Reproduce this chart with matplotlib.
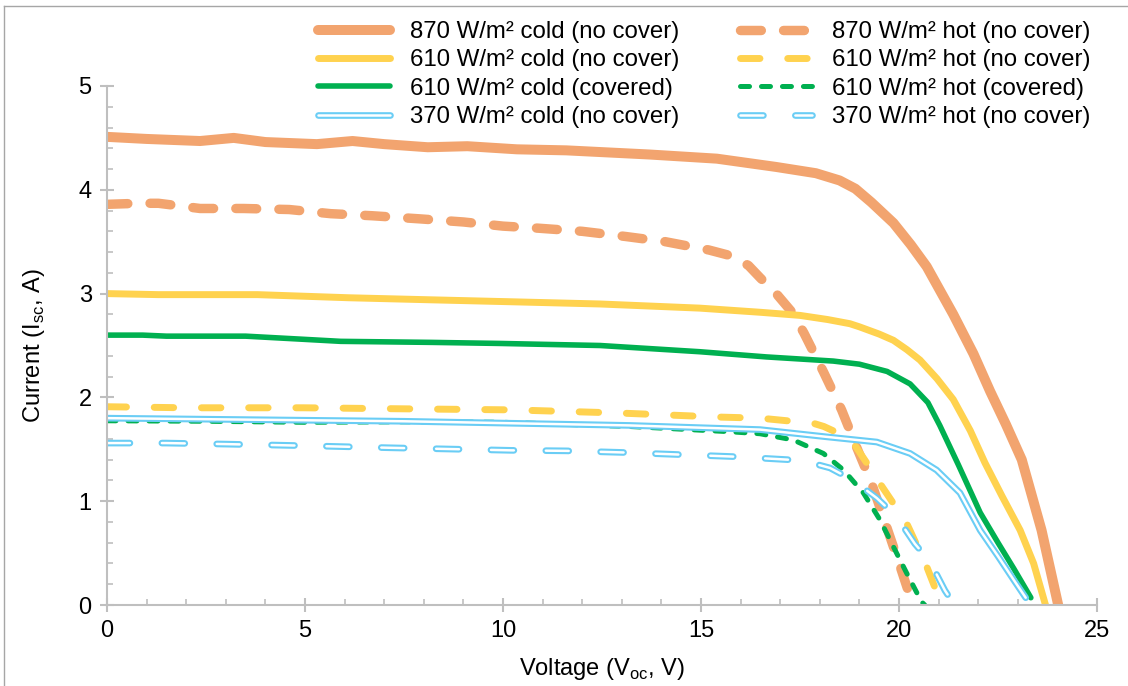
import matplotlib
matplotlib.use('Agg')
import matplotlib.pyplot as plt
from matplotlib.lines import Line2D
from matplotlib.ticker import MultipleLocator

plt.rcParams['font.family'] = ['Liberation Sans', 'DejaVu Sans']
plt.rcParams['font.size'] = 17
plt.rcParams['lines.scale_dashes'] = False

# I-V curves (voltage V, current A)
v_870_cold = [0, 1.0, 2.35, 3.2, 4.0, 5.3, 6.2, 7.0, 8.1, 9.1, 10.35, 11.6, 13.7, 15.4, 16.9, 17.9,
              18.5, 18.9, 19.3, 19.86, 20.3, 20.7, 21.37, 21.88, 22.3, 22.7, 23.1, 23.6, 24.02]
i_870_cold = [4.51, 4.49, 4.47, 4.50, 4.46, 4.44, 4.47, 4.44, 4.41, 4.42, 4.39, 4.38, 4.34, 4.30, 4.22, 4.16,
              4.09, 4.01, 3.88, 3.68, 3.47, 3.26, 2.80, 2.42, 2.06, 1.74, 1.40, 0.72, 0.0]

v_870_hot = [0, 0.8, 1.3, 2.35, 3.45, 4.6, 5.65, 6.7, 7.9, 9.0, 10.0, 10.9, 12.0, 13.1, 14.1, 15.2, 15.8,
             16.2, 16.5, 16.9, 17.3, 17.6, 18.1, 18.55, 18.93, 19.31, 19.69, 20.03, 20.35]
i_870_hot = [3.86, 3.87, 3.87, 3.82, 3.82, 3.81, 3.77, 3.75, 3.72, 3.69, 3.65, 3.63, 3.60, 3.55, 3.50, 3.42, 3.36,
             3.27, 3.15, 3.0, 2.82, 2.62, 2.24, 1.88, 1.52, 1.17, 0.75, 0.37, 0.0]

v_610_cold = [0, 1.3, 3.8, 6.1, 8.2, 10.35, 12.45, 14.97, 16.5, 17.5, 18.2, 18.76, 19.0, 19.5, 19.86, 20.2,
              20.53, 20.96, 21.37, 21.8, 22.17, 22.6, 23.06, 23.4, 23.7]
i_610_cold = [3.0, 2.99, 2.99, 2.96, 2.94, 2.92, 2.90, 2.86, 2.82, 2.79, 2.75, 2.71, 2.68, 2.61, 2.55, 2.46,
              2.36, 2.18, 1.98, 1.68, 1.37, 1.05, 0.72, 0.40, 0.0]

v_610_hot = [0, 2.0, 4.95, 7.5, 10.2, 12.9, 15.5, 16.5, 17.84, 18.1, 18.5, 18.85, 19.2, 19.52, 20.19, 20.7, 21.08]
i_610_hot = [1.91, 1.90, 1.90, 1.89, 1.88, 1.85, 1.81, 1.80, 1.75, 1.72, 1.65, 1.56, 1.36, 1.17, 0.79, 0.37, 0.0]

v_610c_cold = [0, 0.9, 1.5, 3.5, 4.95, 5.9, 8.2, 9.9, 12.45, 14.97, 16.65, 18.34, 19.0, 19.7, 20.28, 20.73,
               21.03, 21.5, 22.05, 22.5, 22.9, 23.33]
i_610c_cold = [2.60, 2.60, 2.59, 2.59, 2.56, 2.54, 2.53, 2.52, 2.50, 2.44, 2.39, 2.35, 2.32, 2.25, 2.13, 1.95,
               1.73, 1.35, 0.89, 0.60, 0.35, 0.07]

v_610c_hot = [0, 2.5, 5, 7.5, 10, 13.2, 15.7, 16.49, 17.33, 18.09, 18.6, 19.1, 19.52, 19.86, 20.19, 20.57, 20.65]
i_610c_hot = [1.775, 1.77, 1.76, 1.765, 1.76, 1.72, 1.67, 1.65, 1.59, 1.46, 1.30, 1.08, 0.82, 0.56, 0.31, 0.03, 0.0]

v_370_cold = [0, 2.5, 5, 7.5, 10.35, 13.2, 16.49, 18.17, 19.44, 20.28, 20.95, 21.54, 22.05, 22.5, 22.9, 23.2]
i_370_cold = [1.80, 1.79, 1.78, 1.77, 1.75, 1.73, 1.69, 1.62, 1.57, 1.46, 1.30, 1.08, 0.72, 0.47, 0.24, 0.07]

v_370_hot = [0, 1.5, 3.0, 4.95, 7.1, 10.2, 11.6, 13.0, 14.4, 15.8, 17.2, 17.58, 18.26, 18.85, 19.44, 19.94,
             20.4, 20.78, 21.16, 21.4]
i_370_hot = [1.56, 1.56, 1.55, 1.535, 1.515, 1.49, 1.485, 1.47, 1.45, 1.43, 1.40, 1.39, 1.32, 1.20, 1.03, 0.85,
             0.59, 0.42, 0.14, 0.0]

labels_cold = ['870 W/m² cold (no cover)', '610 W/m² cold (no cover)',
               '610 W/m² cold (covered)', '370 W/m² cold (no cover)']
labels_hot = ['870 W/m² hot (no cover)', '610 W/m² hot (no cover)',
              '610 W/m² hot (covered)', '370 W/m² hot (no cover)']

orange = '#F2A46F'
yellow = '#FFD24F'
green = '#00B050'
blue = '#6ACDF5'

fig = plt.figure(figsize=(11.28, 6.86), dpi=100)
ax = fig.add_axes([107 / 1128, 81 / 686, 990 / 1128, 519 / 686])

kw = dict(solid_capstyle='round', dash_capstyle='round', solid_joinstyle='round', dash_joinstyle='round')
h870c, = ax.plot(v_870_cold, i_870_cold, color=orange, lw=7.2, **kw)
h870h, = ax.plot(v_870_hot, i_870_hot, color=orange, lw=6.8, dashes=(15, 16), **kw)
h610c, = ax.plot(v_610_cold, i_610_cold, color=yellow, lw=5, **kw)
h610h, = ax.plot(v_610_hot, i_610_hot, color=yellow, lw=5, dashes=(14, 20), **kw)
h610cc, = ax.plot(v_610c_cold, i_610c_cold, color=green, lw=4, **kw)
h610ch, = ax.plot(v_610c_hot, i_610c_hot, color=green, lw=3.6, dashes=(6.5, 8.6), **kw)
h370c_o, = ax.plot(v_370_cold, i_370_cold, color=blue, lw=4.8, **kw)
h370c_i, = ax.plot(v_370_cold, i_370_cold, color='white', lw=1.8, **kw)
h370h_o, = ax.plot(v_370_hot, i_370_hot, color=blue, lw=4.8, dashes=(16.5, 23), **kw)
h370h_i, = ax.plot(v_370_hot, i_370_hot, color='white', lw=1.8, dashes=(16.5, 23), **kw)

ax.set_xlim(0, 25)
ax.set_ylim(0, 5)
ax.xaxis.set_major_locator(MultipleLocator(5))
ax.xaxis.set_minor_locator(MultipleLocator(1))
ax.yaxis.set_major_locator(MultipleLocator(1))
ax.yaxis.set_minor_locator(MultipleLocator(0.2))
for s in ['top', 'right']:
    ax.spines[s].set_visible(False)
for s in ['left', 'bottom']:
    ax.spines[s].set_color('#bfbfbf')
    ax.spines[s].set_linewidth(1.5)
ax.tick_params(which='major', direction='inout', length=10, width=1.5, color='#bfbfbf', pad=6)
ax.tick_params(which='minor', direction='in', length=4, width=1.2, color='#bfbfbf')
ax.set_xlabel('Voltage (V$_{\\mathregular{oc}}$, V)', labelpad=10)
ax.set_ylabel('Current (I$_{\\mathregular{sc}}$, A)', labelpad=23)

handles = [h870c, h610c, h610cc, (h370c_o, h370c_i), h870h, h610h, h610ch, (h370h_o, h370h_i)]
fig.legend(handles, labels_cold + labels_hot, ncol=2, loc='upper right', fontsize=17.3,
           bbox_to_anchor=(0.977, 0.987), frameon=False, borderpad=0, handlelength=3.0,
           handletextpad=0.8, columnspacing=2.55, labelspacing=0.27)

# chart-area border (left and top edges visible)
fig.add_artist(Line2D([4 / 1128, 4 / 1128], [0, 1 - 6 / 686], transform=fig.transFigure, color='#a6a6a6', lw=1))
fig.add_artist(Line2D([4 / 1128, 1], [1 - 6 / 686, 1 - 6 / 686], transform=fig.transFigure, color='#a6a6a6', lw=1))

fig.savefig('out.png', dpi=100)
